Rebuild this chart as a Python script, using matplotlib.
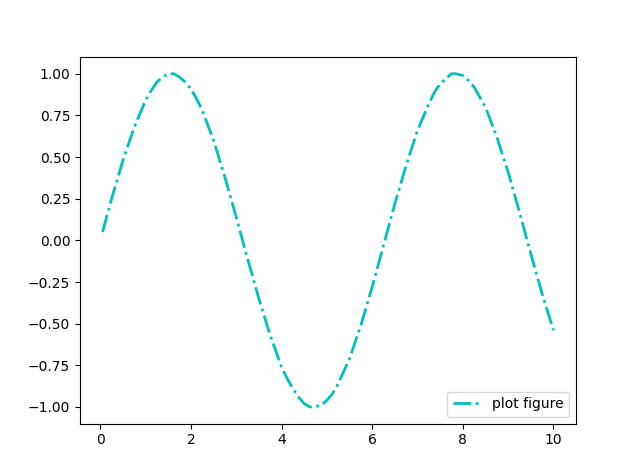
import matplotlib
matplotlib.use("Agg")
import matplotlib.pyplot as plt

# points (denser near the peaks)
x = [0.05, 0.25, 0.5, 0.75, 1.0, 1.125, 1.25, 1.375, 1.5, 1.57, 1.625, 1.75, 1.875,
     2.0, 2.125, 2.25, 2.5, 2.75, 3.0, 3.25, 3.5, 3.75, 4.0, 4.125, 4.25, 4.375,
     4.5, 4.625, 4.71, 4.875, 5.0, 5.125, 5.25, 5.5, 5.75, 6.0, 6.25, 6.5, 6.75,
     7.0, 7.25, 7.375, 7.5, 7.625, 7.75, 7.85, 8.0, 8.125, 8.25, 8.5, 8.75, 9.0,
     9.25, 9.5, 9.75, 10.0]
y = [0.05, 0.25, 0.48, 0.68, 0.84, 0.90, 0.95, 0.98, 1.00, 1.00, 1.00, 0.98, 0.95,
     0.91, 0.85, 0.78, 0.60, 0.38, 0.14, -0.11, -0.35, -0.57, -0.76, -0.83, -0.89, -0.94,
     -0.98, -1.00, -1.00, -0.99, -0.96, -0.92, -0.86, -0.71, -0.51, -0.28, -0.03, 0.22, 0.45,
     0.66, 0.82, 0.89, 0.94, 0.97, 1.00, 1.00, 0.99, 0.96, 0.92, 0.80, 0.62, 0.41,
     0.17, -0.08, -0.32, -0.54]

plt.figure(figsize=(6.4, 4.76), dpi=100)
plt.plot(x, y, color='c', linestyle='-.', linewidth=2, label='plot figure')
plt.legend(loc='lower right')
plt.savefig('out.png')
